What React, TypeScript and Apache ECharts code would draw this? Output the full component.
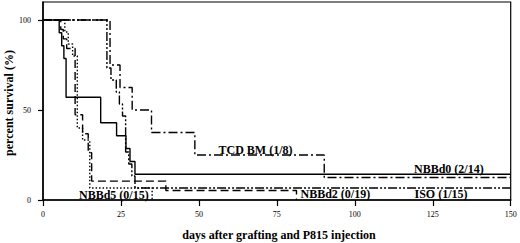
import React, { useEffect, useRef } from "react";
import * as echarts from "echarts";

// ---- data (days, percent survival after each event) ----
const nbbd0Days = [0, 5.2, 6.0, 6.7, 7.4, 18.5, 23.6, 26.6, 27.9, 29.5, 150];
const nbbd0Surv = [100, 92.9, 85.7, 78.6, 57.1, 42.9, 35.7, 28.6, 21.4, 14.3, 14.3];

const tcdDays = [0, 21.5, 24.7, 28.6, 34.8, 48.7, 90.2, 150];
const tcdSurv = [100, 75, 62.5, 50, 37.5, 25, 12.5, 12.5];

const isoDays = [0, 20.5, 21.8, 23.5, 24.5, 25.5, 26.5, 27.5, 28.5, 29.5, 150];
const isoSurv = [100, 73.3, 66.7, 60, 53.3, 46.7, 26.7, 20, 13.3, 6.7, 6.7];

const nbbd2Days = [0, 5.7, 6.5, 7.6, 10.3, 12.7, 14.5, 15.6, 39.4, 81.3];
const nbbd2Surv = [100, 94.7, 89.5, 84.2, 47.4, 36.8, 26.3, 10.5, 5.3, 0];

const nbbd5Days = [0, 7.0, 8.1, 9.5, 11.0, 12.7, 15.0, 35.0];
const nbbd5Surv = [100, 93.3, 86.7, 80, 40, 33.3, 6.7, 0];

const xTicks = [0, 25, 50, 75, 100, 125, 150];
const yTicks = [0, 50, 100];

const groupLabels = ["NBBd0 (2/14)", "TCD BM (1/8)", "ISO (1/15)", "NBBd2 (0/19)", "NBBd5 (0/15)"];

const xTitle = "days after grafting and P815 injection";
const yTitle = "percent survival (%)";

const zip = (a: number[], b: number[]) => a.map((d, i) => [d, b[i]]);

const SERIF = '"Liberation Serif", "DejaVu Serif", serif';

export default function App() {
  const ref = useRef<HTMLDivElement>(null);

  useEffect(() => {
    if (!ref.current) return;
    const chart = echarts.init(ref.current, undefined, { renderer: "svg" });

    const mk = (name: string, data: number[][], type: any) => ({
      name,
      type: "line",
      step: "end",
      symbol: "none",
      data,
      lineStyle: { color: "#000", width: 1.4, type },
      silent: true,
    });

    const labelFont = `bold 12px ${SERIF}`;
    const lbl = (text: string, x: number, y: number) => ({
      type: "text",
      x,
      y,
      silent: true,
      style: { text, font: labelFont, fill: "#000", align: "left", verticalAlign: "middle" },
    });

    chart.setOption({
      animation: false,
      backgroundColor: "#fff",
      grid: {
        left: 43,
        right: 9.3,
        top: 2,
        bottom: 43,
        show: true,
        borderColor: "#000",
        borderWidth: 1.2,
        backgroundColor: "transparent",
      },
      xAxis: {
        type: "value",
        min: 0,
        max: 150,
        interval: 25,
        axisLine: { show: true, lineStyle: { color: "#000", width: 1.5 } },
        axisTick: { show: true, length: 6, lineStyle: { color: "#000", width: 1.2 } },
        axisLabel: {
          margin: 10,
          color: "#000",
          fontFamily: SERIF,
          fontSize: 8,
          customValues: xTicks,
        },
        splitLine: { show: false },
      },
      yAxis: {
        type: "value",
        min: 0,
        max: 110,
        interval: 50,
        axisLine: { show: true, lineStyle: { color: "#000", width: 1.5 } },
        axisTick: { show: true, length: 5, lineStyle: { color: "#000", width: 1.2 }, customValues: yTicks },
        axisLabel: {
          margin: 12,
          color: "#000",
          fontFamily: SERIF,
          fontSize: 8,
          customValues: yTicks,
        },
        splitLine: { show: false },
      },
      series: [
        mk(groupLabels[0], zip(nbbd0Days, nbbd0Surv), "solid"),
        mk(groupLabels[1], zip(tcdDays, tcdSurv), [9, 3, 2, 3]),
        mk(groupLabels[2], zip(isoDays, isoSurv), [9, 2, 2, 2, 2, 2]),
        mk(groupLabels[3], zip(nbbd2Days, nbbd2Surv), [8, 4]),
        mk(groupLabels[4], zip(nbbd5Days, nbbd5Surv), [1.5, 2]),
      ],
      graphic: [
        lbl(groupLabels[0], 414, 168.5),
        lbl(groupLabels[1], 218.5, 150),
        lbl(groupLabels[2], 414.5, 193.5),
        lbl(groupLabels[3], 300.5, 193.5),
        lbl(groupLabels[4], 79, 194.5),
        {
          type: "text",
          x: 279,
          y: 235,
          silent: true,
          style: { text: xTitle, font: labelFont, fill: "#000", align: "center", verticalAlign: "middle" },
        },
        {
          type: "text",
          x: 8.5,
          y: 103,
          rotation: Math.PI / 2,
          silent: true,
          style: { text: yTitle, font: labelFont, fill: "#000", align: "center", verticalAlign: "middle" },
        },
      ],
    });

    return () => chart.dispose();
  }, []);

  return (
    <div
      ref={ref}
      style={{ position: "fixed", left: 0, top: 0, width: 520, height: 243, background: "#fff" }}
    />
  );
}
